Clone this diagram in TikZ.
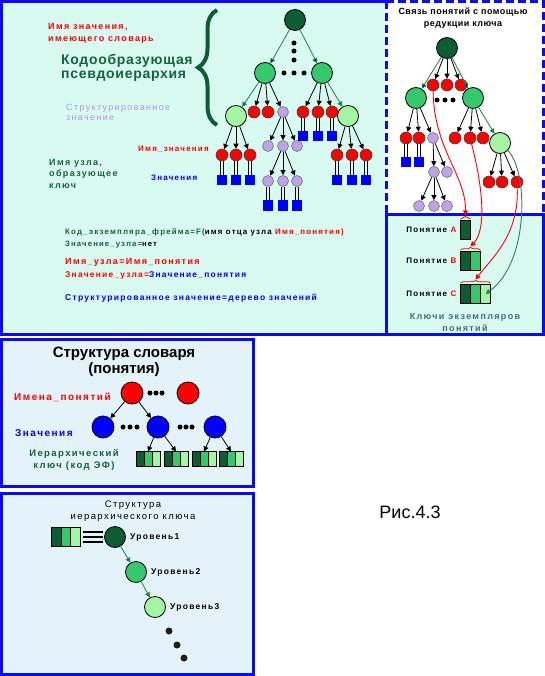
\documentclass[tikz,border=0pt]{standalone}
\usepackage{fontspec}
\setmainfont{Liberation Sans}
\newfontfamily\widefont{Liberation Sans}[LetterSpace=15]
\newfontfamily\headfont{Liberation Sans}[LetterSpace=5]
\usetikzlibrary{positioning,arrows.meta,decorations.pathreplacing}
\definecolor{dkgreen}{RGB}{12,92,52}
\definecolor{mdgreen}{RGB}{56,200,108}
\definecolor{ltgreen}{RGB}{164,246,164}
\definecolor{lavender}{RGB}{192,162,232}
\definecolor{lavtext}{RGB}{180,150,230}
\definecolor{framblue}{RGB}{10,10,245}
\definecolor{bgcyan}{RGB}{216,250,240}
\definecolor{bgblue}{RGB}{228,243,250}
\definecolor{keyteal}{RGB}{64,112,120}
\definecolor{arrteal}{RGB}{60,120,110}
\definecolor{arrgreen}{RGB}{30,130,70}
\definecolor{txgreen}{RGB}{20,100,60}
\definecolor{dotgray}{RGB}{30,30,20}
\begin{document}
\begin{tikzpicture}[x=1pt,y=-1pt,
	>={Triangle[length=5pt,width=5pt]},
	bignode/.style={circle,draw=black,line width=0.8pt,minimum size=21pt,inner sep=0pt},
	dkn/.style={bignode,fill=dkgreen},
	mdn/.style={bignode,fill=mdgreen},
	ltn/.style={bignode,fill=ltgreen},
	rdn/.style={circle,draw=black!75,line width=0.6pt,fill=red,minimum size=12pt,inner sep=0pt},
	lvn/.style={circle,draw=black!55,line width=0.6pt,fill=lavender,minimum size=11pt,inner sep=0pt},
	bln/.style={circle,draw=black,line width=0.8pt,fill=blue,minimum size=22pt,inner sep=0pt},
	bsq/.style={rectangle,fill=blue,minimum size=10pt,inner sep=0pt},
	bdot/.style={circle,fill=black,minimum size=5pt,inner sep=0pt},
	garr/.style={->,draw=arrgreen,line width=0.8pt},
	barr/.style={->,line width=0.8pt},
	dbl/.style={double=bgcyan,double distance=1.8pt,line width=1.1pt},
	dblw/.style={double=white,double distance=1.8pt,line width=1.1pt},
	kcell/.style={rectangle,draw=black,line width=0.6pt,minimum width=10pt,minimum height=19pt,inner sep=0pt,outer sep=0pt},
	skey/.style={kcell,minimum width=8pt,minimum height=15pt},
	txt/.style={inner sep=0pt,anchor=west,align=left},
	]
	\useasboundingbox (0,0) rectangle (545,676);
	% Panels
	\fill[bgcyan] (0,0) rectangle (384.5,335);
	\draw[framblue,line width=3pt] (386,214) -- (386,334) -- (1.5,334) -- (1.5,1.5) -- (386,1.5);
	\draw[framblue,line width=3pt,dash pattern=on 8pt off 4pt,fill=white] (386,1.5) rectangle (543.5,214);
	\draw[framblue,line width=3pt,fill=bgcyan] (386,214) rectangle (543.5,334);
	\draw[framblue,line width=3pt,fill=bgblue] (1.5,339.5) rectangle (253.5,486);
	\draw[framblue,line width=3pt,fill=bgblue] (1.5,493) rectangle (253.5,674.5);

	% Main tree
	\node[dkn] (root) at (295,20) {};
	\node[bdot] (vd1) at (294,43) {};
	\node[bdot] (vd2) at (294,51) {};
	\node[bdot] (vd3) at (294,60) {};
	\node[mdn] (midL) at (265,73) {};
	\node[mdn] (midR) at (322,73) {};
	\node[bdot] (hd1) at (284,73) {};
	\node[bdot] (hd2) at (294,73) {};
	\node[bdot] (hd3) at (304,73) {};
	\node[ltn] (subL) at (236,116) {};
	\node[rdn] (rL1) at (254,112) {};
	\node[rdn] (rL2) at (268,112) {};
	\node[lvn] (vA) at (283,112) {};
	\node[rdn] (rR1) at (303,112) {};
	\node[rdn] (rR2) at (318,112) {};
	\node[rdn] (rR3) at (332,112) {};
	\node[ltn] (subR) at (348,116) {};
	\node[bsq,below=13pt of rR1] (sR1) {};
	\node[bsq,below=13pt of rR2] (sR2) {};
	\node[bsq,below=13pt of rR3] (sR3) {};
	\node[rdn] (a1) at (222,155) {};
	\node[rdn] (a2) at (236,155) {};
	\node[rdn] (a3) at (250,155) {};
	\node[bsq,below=14pt of a1] (sa1) {};
	\node[bsq,below=14pt of a2] (sa2) {};
	\node[bsq,below=14pt of a3] (sa3) {};
	\node[lvn] (b1) at (268,146) {};
	\node[lvn] (b2) at (283,146) {};
	\node[lvn] (b3) at (297,146) {};
	\node[lvn] (c1) at (268,181) {};
	\node[lvn] (c2) at (283,181) {};
	\node[lvn] (c3) at (297,181) {};
	\node[bsq,below=13.5pt of c1] (sc1) {};
	\node[bsq,below=13.5pt of c2] (sc2) {};
	\node[bsq,below=13.5pt of c3] (sc3) {};
	\node[rdn] (d1) at (337,155) {};
	\node[rdn] (d2) at (352,155) {};
	\node[rdn] (d3) at (366,155) {};
	\node[bsq,below=14pt of d1] (sd1) {};
	\node[bsq,below=14pt of d2] (sd2) {};
	\node[bsq,below=14pt of d3] (sd3) {};

	\draw[garr] (root) edge (midL) edge (midR);
	\draw[garr] (midL) -- (subL);
	\draw[garr] (midR) -- (subR);
	\draw[barr] (midL) edge (rL1) edge (rL2) edge (vA);
	\draw[barr] (midR) edge (rR1) edge (rR2) edge (rR3);
	\draw[barr] (subL) edge (a1) edge (a2) edge (a3);
	\draw[barr] (vA) edge (b1) edge (b2) edge (b3);
	\draw[barr] (b2) edge (c1) edge (c2) edge (c3);
	\draw[barr] (subR) edge (d1) edge (d2) edge (d3);
	\draw[dbl] (rR1) -- (sR1) (rR2) -- (sR2) (rR3) -- (sR3);
	\draw[dbl] (a1) -- (sa1) (a2) -- (sa2) (a3) -- (sa3);
	\draw[dbl] (c1) -- (sc1) (c2) -- (sc2) (c3) -- (sc3);
	\draw[dbl] (d1) -- (sd1) (d2) -- (sd2) (d3) -- (sd3);

	\draw[dkgreen,line width=4pt,decorate,decoration={brace,amplitude=19pt}] (217,125) -- (217,10);

	% Main texts
	\node[txt,text=red,font=\widefont\bfseries\fontsize{9}{12}\selectfont] (vname) at (48,33) {Имя значения,\\имеющего словарь};
	\node[txt,text=txgreen,font=\headfont\bfseries\fontsize{14}{14}\selectfont] (pseudo) at (61,68) {Кодообразующая\\псевдоиерархия};
	\node[txt,text=lavtext,font=\widefont\fontsize{9}{10}\selectfont] (strval) at (66,112) {Структурированное\\значение};
	\node[txt,text=red,font=\widefont\bfseries\fontsize{8}{10}\selectfont] (vlabel) at (138,149) {Имя\_значения};
	\node[txt,text=txgreen,font=\widefont\bfseries\fontsize{9}{11.5}\selectfont] (nodename) at (49,173.5) {Имя узла,\\образующее\\ключ};
	\node[txt,text=blue,font=\widefont\bfseries\fontsize{8}{10}\selectfont] (vals) at (151,178) {Значения};
	\node[txt,text=txgreen,font=\widefont\bfseries\fontsize{7.9}{9}\selectfont] (rule1) at (65,232) {Код\_экземпляра\_фрейма=F(\textcolor{black}{имя отца узла }\textcolor{red}{Имя\_понятия)}};
	\node[txt,text=txgreen,font=\widefont\bfseries\fontsize{7.7}{9}\selectfont] (rule2) at (65,245) {Значение\_узла=\textcolor{black}{нет}};
	\node[txt,text=red,font=\widefont\bfseries\fontsize{9}{11}\selectfont] (rule3) at (65,262) {Имя\_узла=Имя\_понятия};
	\node[txt,text=red,font=\widefont\bfseries\fontsize{8.4}{10}\selectfont] (rule4) at (65,275) {Значение\_узла=\textcolor{blue}{Значение\_понятия}};
	\node[txt,text=blue,font=\widefont\bfseries\fontsize{8.5}{10}\selectfont] (rule5) at (65,298) {Структурированное значение=дерево значений};

	% Reduction tree
	\node[font=\headfont\bfseries\fontsize{9}{12}\selectfont,align=center,inner sep=0pt] (redtitle) at (463,18) {Связь понятий с помощью\\редукции ключа};
	\node[dkn] (proot) at (447,48) {};
	\node[rdn] (q1) at (433,85) {};
	\node[rdn] (q2) at (447,85) {};
	\node[rdn] (q3) at (461,85) {};
	\node[mdn] (pL) at (416,98) {};
	\node[mdn] (pR) at (473,98) {};
	\node[bdot] (pd1) at (437,100) {};
	\node[bdot] (pd2) at (445,100) {};
	\node[bdot] (pd3) at (453,100) {};
	\node[rdn] (e1) at (406,138) {};
	\node[rdn] (e2) at (419,138) {};
	\node[lvn] (e3) at (433,138) {};
	\node[bsq,below=13pt of e1] (se1) {};
	\node[bsq,below=13pt of e2] (se2) {};
	\node[lvn] (f1) at (434,172) {};
	\node[lvn] (f2) at (447,172) {};
	\node[lvn] (g1) at (419,206) {};
	\node[lvn] (g2) at (434,206) {};
	\node[lvn] (g3) at (447,206) {};
	\node[rdn] (h1) at (455,138) {};
	\node[rdn] (h2) at (470,138) {};
	\node[rdn] (h3) at (483,138) {};
	\node[ltn] (pG) at (500,143) {};
	\node[rdn] (i1) at (489,182) {};
	\node[rdn] (i2) at (502,182) {};
	\node[rdn] (i3) at (517,182) {};

	\draw[garr] (proot) edge (pL) edge (pR);
	\draw[barr] (proot) edge (q1) edge (q2) edge (q3);
	\draw[barr] (pL) edge (e1) edge (e2) edge (e3);
	\draw[barr] (e3) edge (f1) edge (f2);
	\draw[barr] (f1) edge (g1) edge (g2) edge (g3);
	\draw[barr] (pR) edge (h1) edge (h2) edge (h3);
	\draw[garr] (pR) -- (pG);
	\draw[barr] (pG) edge (i1) edge (i2) edge (i3);
	\draw[dblw] (e1) -- (se1) (e2) -- (se2);

	% Concept keys
	\node[kcell,fill=dkgreen] (kA1) at (465.5,230) {};
	\node[kcell,fill=dkgreen] (kB1) at (465.5,261) {};
	\node[kcell,fill=mdgreen,right=0pt of kB1] (kB2) {};
	\node[kcell,fill=dkgreen] (kC1) at (465.5,294) {};
	\node[kcell,fill=mdgreen,right=0pt of kC1] (kC2) {};
	\node[kcell,fill=ltgreen,right=0pt of kC2] (kC3) {};
	\node[left=4pt of kA1,inner sep=0pt,font=\widefont\bfseries\fontsize{8}{10}\selectfont] (cA) {Понятие \textcolor{red}{A}};
	\node[left=4pt of kB1,inner sep=0pt,font=\widefont\bfseries\fontsize{8}{10}\selectfont] (cB) {Понятие \textcolor{red}{B}};
	\node[left=4pt of kC1,inner sep=0pt,font=\widefont\bfseries\fontsize{8}{10}\selectfont] (cC) {Понятие \textcolor{red}{C}};
	\node[text=keyteal,align=center,inner sep=0pt,font=\widefont\bfseries\fontsize{9}{12}\selectfont] (keys) at (465,322) {Ключи экземпляров\\понятий};

	\draw[red,line width=0.7pt,decorate,decoration={brace,amplitude=2.5pt}] ([yshift=1.5pt]kA1.north west) -- ([yshift=1.5pt]kA1.north east);
	\draw[red,line width=0.7pt,decorate,decoration={brace,amplitude=2.5pt}] ([yshift=1.5pt]kB1.north west) -- ([yshift=1.5pt]kB2.north east);
	\draw[red,line width=0.7pt,decorate,decoration={brace,amplitude=2.5pt}] ([yshift=1.5pt]kC1.north west) -- ([yshift=1.5pt]kC3.north east);
	\draw[red,line width=0.9pt,->] (q1) .. controls (434,150) and (466,175) .. ([yshift=5pt]kA1.north);
	\draw[red,line width=0.9pt,->] (h2) .. controls (481,180) and (488,228) .. ([yshift=5pt]kB1.north east);
	\draw[red,line width=0.9pt,->] (i3) .. controls (519,235) and (492,258) .. ([yshift=5pt]kC2.north);
	\draw[arrteal,line width=0.9pt,->] (pG) .. controls (528,170) and (530,262) .. (kC3.center);

	% Dictionary structure
	\node[font=\bfseries\fontsize{15}{16}\selectfont,align=center,inner sep=0pt] (dtitle) at (124,362) {Структура словаря\\(понятия)};
	\node[rdn,minimum size=22pt,draw=black,line width=0.8pt] (nm1) at (132,393) {};
	\node[rdn,minimum size=22pt,draw=black,line width=0.8pt] (nm2) at (188,393) {};
	\node[bdot] (nd1) at (150,393) {};
	\node[bdot] (nd2) at (156,393) {};
	\node[bdot] (nd3) at (162,393) {};
	\node[bln] (vl1) at (103,427) {};
	\node[bln] (vl2) at (158,427) {};
	\node[bln] (vl3) at (215,427) {};
	\node[bdot] (ld1) at (123,427) {};
	\node[bdot] (ld2) at (130,427) {};
	\node[bdot] (ld3) at (137,427) {};
	\node[bdot] (ld4) at (180,427) {};
	\node[bdot] (ld5) at (186,427) {};
	\node[bdot] (ld6) at (192,427) {};
	\node[skey,fill=dkgreen] (ka1) at (140,459) {};
	\node[skey,fill=mdgreen,right=0pt of ka1] (ka2) {};
	\node[skey,fill=ltgreen,right=0pt of ka2] (ka3) {};
	\node[skey,fill=dkgreen] (kb1) at (168,459) {};
	\node[skey,fill=mdgreen,right=0pt of kb1] (kb2) {};
	\node[skey,fill=ltgreen,right=0pt of kb2] (kb3) {};
	\node[skey,fill=dkgreen] (kc1) at (196,459) {};
	\node[skey,fill=mdgreen,right=0pt of kc1] (kc2) {};
	\node[skey,fill=ltgreen,right=0pt of kc2] (kc3) {};
	\node[skey,fill=dkgreen] (kd1) at (223,459) {};
	\node[skey,fill=mdgreen,right=0pt of kd1] (kd2) {};
	\node[skey,fill=ltgreen,right=0pt of kd2] (kd3) {};
	\draw[barr] (nm1) edge (vl1) edge (vl2);
	\draw[barr] (vl2) edge (ka2.north) edge (kb2.north);
	\draw[barr] (vl3) edge (kc2.north) edge (kd2.north);
	\node[txt,text=red,font=\widefont\bfseries\fontsize{10}{12}\selectfont] (cnames) at (14,397) {Имена\_понятий};
	\node[txt,text=blue,font=\widefont\bfseries\fontsize{10}{12}\selectfont] (cvals) at (15,433) {Значения};
	\node[text=txgreen,align=center,inner sep=0pt,font=\widefont\bfseries\fontsize{9.5}{12}\selectfont] (hkey) at (74,460) {Иерархический\\ключ (код ЭФ)};

	% Key structure
	\node[font=\widefont\fontsize{9.5}{11.5}\selectfont,align=center,inner sep=0pt] (ktitle) at (133,511) {Структура\\иерархического ключа};
	\node[kcell,minimum width=9.5pt,fill=dkgreen] (kk1) at (56.5,537) {};
	\node[kcell,minimum width=9.5pt,fill=mdgreen,right=0pt of kk1] (kk2) {};
	\node[kcell,minimum width=9.5pt,fill=ltgreen,right=0pt of kk2] (kk3) {};
	\node[dkn] (lv1) at (115,537) {};
	\node[mdn] (lv2) at (136,572) {};
	\node[ltn] (lv3) at (155,607) {};
	\draw[line width=2.5pt,shorten <=3pt,shorten >=1.5pt] ([yshift=5.2pt]kk3.east) -- ([yshift=5.2pt]lv1.west);
	\draw[line width=2.5pt,shorten <=3pt,shorten >=1.5pt] (kk3.east) -- (lv1.west);
	\draw[line width=2.5pt,shorten <=3pt,shorten >=1.5pt] ([yshift=-5.2pt]kk3.east) -- ([yshift=-5.2pt]lv1.west);
	\draw[garr] (lv1) -- (lv2);
	\draw[garr] (lv2) -- (lv3);
	\node[right=4pt of lv1,inner sep=0pt,font=\widefont\bfseries\fontsize{8.5}{10}\selectfont] (lt1) {Уровень1};
	\node[right=4pt of lv2,inner sep=0pt,font=\widefont\bfseries\fontsize{8.5}{10}\selectfont] (lt2) {Уровень2};
	\node[right=4pt of lv3,inner sep=0pt,font=\widefont\bfseries\fontsize{8.5}{10}\selectfont] (lt3) {Уровень3};
	\node[bdot,fill=dotgray,minimum size=7pt] (kd1dot) at (169,631) {};
	\node[bdot,fill=dotgray,minimum size=7pt] (kd2dot) at (177,645) {};
	\node[bdot,fill=dotgray,minimum size=7pt] (kd3dot) at (184,658) {};

	\node[font=\fontsize{18}{20}\selectfont] (fig) at (410,512) {Рис.4.3};
\end{tikzpicture}
\end{document}
